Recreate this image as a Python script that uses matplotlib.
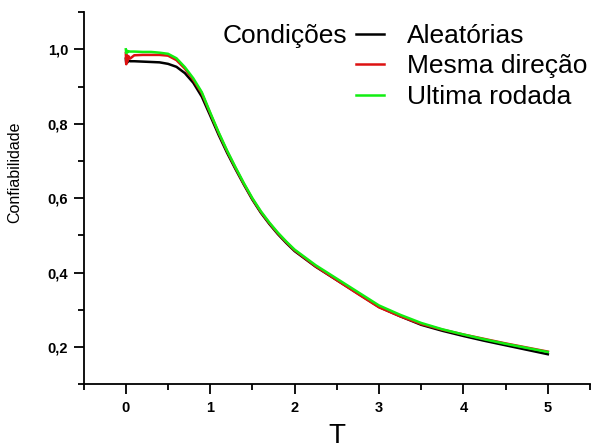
import numpy as np
import matplotlib
matplotlib.use("Agg")
import matplotlib.pyplot as plt
from matplotlib.ticker import MultipleLocator, FuncFormatter

plt.rcParams['font.family'] = ['Liberation Sans', 'DejaVu Sans']

# leitura aproximada das curvas
T = [0.0, 0.005, 0.01, 0.02, 0.03, 0.05, 0.1, 0.2, 0.3, 0.4, 0.5, 0.6, 0.7, 0.8, 0.9,
     1.0, 1.1, 1.2, 1.3, 1.4, 1.5, 1.6, 1.7, 1.8, 1.9, 2.0, 2.25, 2.5, 2.75,
     3.0, 3.25, 3.5, 3.75, 4.0, 4.25, 4.5, 4.75, 5.0]
aleatorias = [0.975, 0.962, 0.972, 0.965, 0.97, 0.968, 0.968, 0.967, 0.966, 0.965,
              0.961, 0.953, 0.936, 0.91, 0.873, 0.822, 0.77, 0.722, 0.678, 0.636,
              0.596, 0.561, 0.531, 0.504, 0.48, 0.458, 0.416, 0.38, 0.344,
              0.308, 0.283, 0.26, 0.244, 0.23, 0.217, 0.205, 0.193, 0.181]
mesma_direcao = [0.99, 0.96, 0.985, 0.968, 0.982, 0.975, 0.984, 0.985, 0.985, 0.985,
                 0.983, 0.971, 0.948, 0.918, 0.882, 0.828, 0.775, 0.726, 0.681, 0.638,
                 0.598, 0.563, 0.533, 0.506, 0.482, 0.46, 0.417, 0.38, 0.343,
                 0.307, 0.283, 0.262, 0.247, 0.234, 0.222, 0.21, 0.199, 0.188]
ultima_rodada = [1.0, 0.99, 0.997, 0.992, 0.995, 0.994, 0.994, 0.993, 0.993, 0.991,
                 0.988, 0.976, 0.952, 0.922, 0.885, 0.83, 0.777, 0.728, 0.683, 0.64,
                 0.6, 0.565, 0.535, 0.508, 0.484, 0.462, 0.42, 0.384, 0.348,
                 0.312, 0.287, 0.265, 0.248, 0.234, 0.221, 0.209, 0.198, 0.187]

fig = plt.figure(figsize=(5.93, 4.48), dpi=100)
ax = fig.add_axes([0.141, 0.142, 0.854, 0.831])

ax.plot(T, aleatorias, color='black', lw=1.8, label='Aleatórias')
ax.plot(T, mesma_direcao, color='#dd1111', lw=1.8, label='Mesma direção')
ax.plot(T, ultima_rodada, color='#11ee11', lw=1.8, label='Ultima rodada')

ax.set_xlim(-0.5, 5.5)
ax.set_ylim(0.1, 1.1)
ax.xaxis.set_major_locator(MultipleLocator(1))
ax.xaxis.set_minor_locator(MultipleLocator(0.5))
ax.yaxis.set_major_locator(MultipleLocator(0.2))
ax.yaxis.set_minor_locator(MultipleLocator(0.1))
ax.yaxis.set_major_formatter(FuncFormatter(lambda v, p: f"{v:.1f}".replace('.', ',')))

for s in ['top', 'right']:
    ax.spines[s].set_visible(False)
for s in ['left', 'bottom']:
    ax.spines[s].set_linewidth(1.3)

ax.tick_params(which='major', direction='out', length=7, width=1.3, labelsize=10.5)
ax.tick_params(which='minor', direction='out', length=4, width=1.3)
ax.tick_params(axis='x', pad=5)
ax.tick_params(axis='y', pad=4)
for lab in ax.get_xticklabels() + ax.get_yticklabels():
    lab.set_fontweight('bold')

ax.set_xlabel('T', fontsize=20)
ax.set_ylabel('Confiabilidade', fontsize=11.5)
ax.xaxis.set_label_coords(0.5, -0.105)
ax.yaxis.set_label_coords(-0.121, 0.57)

fig.legend(loc='upper left', bbox_to_anchor=(0.600, 0.947), frameon=False,
           fontsize=19, handlelength=1.05, handletextpad=0.9, labelspacing=0.25,
           borderpad=0, borderaxespad=0)
fig.text(0.585, 0.904, 'Condições', fontsize=19, ha='right', va='baseline')

plt.savefig("out.png", dpi=100)
